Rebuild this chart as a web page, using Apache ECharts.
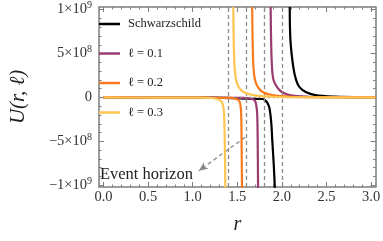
<!DOCTYPE html>
<html>
<head>
<meta charset="utf-8">
<script src="https://cdn.jsdelivr.net/npm/echarts@6/dist/echarts.min.js"></script>
<style>html,body{margin:0;padding:0;background:#fff;}#c{width:383px;height:241px;}</style>
</head>
<body>
<div id="c"></div>
<script>
// ---- data ----
var seriesNames = ['Schwarzschild', 'ℓ = 0.1', 'ℓ = 0.2', 'ℓ = 0.3'];
var seriesColors = ['#000000', '#9b3a6f', '#f77a1e', '#fec550'];

// inner branches (r < horizon), [r, U]
var schwInner = [[0,0],[0.6,-1e6],[1.2,-3e6],[1.46,-8e6],[1.6,-1.5e7],[1.785,-1.8e7],[1.822,-4e7],[1.857,-1.06e8],[1.881,-2.9e8],[1.892,-4.85e8],[1.908,-7.5e8],[1.921,-1.03e9]];
var l01Inner = [[0,0],[0.6,-1e6],[1.2,-3e6],[1.57,-5e6],[1.677,-2e7],[1.704,-5e7],[1.720,-1.4e8],[1.726,-2.9e8],[1.729,-5e8],[1.733,-1.03e9]];
var l02Inner = [[0,0],[0.6,-1e6],[1.1,-3e6],[1.409,-5e6],[1.495,-2e7],[1.527,-5e7],[1.541,-1.4e8],[1.546,-2.9e8],[1.548,-5e8],[1.553,-1.03e9]];
var l03Inner = [[0,0],[0.6,-1e6],[1.0,-3e6],[1.195,-5e6],[1.28,-2e7],[1.327,-5e7],[1.348,-1.4e8],[1.355,-2.9e8],[1.360,-5e8],[1.366,-1.03e9]];

// outer branches (r > horizon), [r, U]
var schwOuter = [[2.088,1.03e9],[2.096,6.5e8],[2.128,3.46e8],[2.160,1.98e8],[2.198,1.18e8],[2.267,6.2e7],[2.374,2.7e7],[2.6,9e6],[2.9,3e6],[3.05,2e6]];
var l01Outer = [[1.874,1.03e9],[1.879,6.5e8],[1.889,3.46e8],[1.906,1.98e8],[1.946,1.18e8],[1.999,6.2e7],[2.085,2.7e7],[2.3,8e6],[2.6,2e6],[3.05,5e5]];
var l02Outer = [[1.667,1.03e9],[1.672,6.5e8],[1.681,3.46e8],[1.699,1.98e8],[1.731,1.18e8],[1.784,6.2e7],[1.891,2.7e7],[2.1,8e6],[2.4,2e6],[3.05,3e5]];
var l03Outer = [[1.455,1.03e9],[1.460,6.5e8],[1.470,3.46e8],[1.487,1.98e8],[1.516,1.18e8],[1.570,6.2e7],[1.678,2.7e7],[1.9,8e6],[2.2,2e6],[3.05,2e5]];

var horizons = [1.4, 1.6, 1.8, 2.0];
var xTickValues = [0, 0.5, 1.0, 1.5, 2.0, 2.5, 3.0];
var xTickLabels = ['0.0', '0.5', '1.0', '1.5', '2.0', '2.5', '3.0'];
var xMinorValues = [0.1,0.2,0.3,0.4,0.6,0.7,0.8,0.9,1.1,1.2,1.3,1.4,1.6,1.7,1.8,1.9,2.1,2.2,2.3,2.4,2.6,2.7,2.8,2.9];
var yTickValues = [-1e9, -5e8, 0, 5e8, 1e9];
var yTickLabels = ['−1×10{s|9}', '−5×10{s|8}', '0', '5×10{s|8}', '1×10{s|9}'];
var yMinorValues = [-9e8,-8e8,-7e8,-6e8,-4e8,-3e8,-2e8,-1e8,1e8,2e8,3e8,4e8,6e8,7e8,8e8,9e8];
var annotationText = 'Event horizon';
var annotationAt = [-0.04, -8.8e8];
var arrowFrom = [1.588, -4.54e8];
var arrowTo = [1.069, -8.35e8];

// ---- chart ----
var FONT = 'Liberation Serif';
var frameColor = '#7d7d7d';
var X_MIN = -0.05, X_MAX = 3.05, Y_MIN = -1.02e9, Y_MAX = 1.03e9;

function xAxisDef(pos, major, showLine, showLabel) {
  return {
    type: 'value', min: X_MIN, max: X_MAX, position: pos,
    axisLine: {show: showLine, onZero: false, lineStyle: {color: frameColor, width: 1.5}},
    axisTick: {show: true, inside: true, length: major ? 5 : 2.5,
      customValues: major ? xTickValues : xMinorValues,
      lineStyle: {color: frameColor, width: 1}},
    axisLabel: showLabel ? {show: true, customValues: xTickValues, margin: 3,
      fontFamily: FONT, fontSize: 14.5, color: '#333',
      formatter: function (v) { var i = xTickValues.indexOf(Math.round(v*10)/10); return i >= 0 ? xTickLabels[i] : ''; }
    } : {show: false},
    splitLine: {show: false}
  };
}
function yAxisDef(pos, major, showLine, showLabel) {
  return {
    type: 'value', min: Y_MIN, max: Y_MAX, position: pos,
    axisLine: {show: showLine, onZero: false, lineStyle: {color: frameColor, width: 1.5}},
    axisTick: {show: true, inside: true, length: major ? 5 : 2.5,
      customValues: major ? yTickValues : yMinorValues,
      lineStyle: {color: frameColor, width: 1}},
    axisLabel: showLabel ? {show: true, customValues: yTickValues, margin: 7,
      fontFamily: FONT, fontSize: 14.5, color: '#333',
      formatter: function (v) { var i = yTickValues.indexOf(Math.round(v/1e8)*1e8); return i >= 0 ? yTickLabels[i] : ''; },
      rich: {
        s: {fontFamily: FONT, fontSize: 10, color: '#333', padding: [0, 0, 8, 0]}
      }
    } : {show: false},
    splitLine: {show: false}
  };
}

var xAxes = [xAxisDef('bottom', true, true, true), xAxisDef('bottom', false, false, false),
             xAxisDef('top', true, true, false), xAxisDef('top', false, false, false)];
xAxes[0].name = 'r';
xAxes[0].nameLocation = 'middle';
xAxes[0].nameGap = 28;
xAxes[0].nameTextStyle = {fontFamily: FONT, fontStyle: 'italic', fontSize: 20, color: '#222'};

var yAxes = [yAxisDef('left', true, true, true), yAxisDef('left', false, false, false),
             yAxisDef('right', true, true, false), yAxisDef('right', false, false, false)];
yAxes[0].name = 'U(r, ℓ)';
yAxes[0].nameLocation = 'middle';
yAxes[0].nameGap = 70;
yAxes[0].nameRotate = 90;
yAxes[0].nameTextStyle = {fontFamily: FONT, fontStyle: 'italic', fontSize: 21, color: '#222'};

var inner = [schwInner, l01Inner, l02Inner, l03Inner];
var outer = [schwOuter, l01Outer, l02Outer, l03Outer];
var series = [];

// guide lines (horizons, zero line, annotation)
series.push({
  type: 'line', data: [], silent: true, z: 1,
  markLine: {
    silent: true, symbol: ['none', 'none'], animation: false,
    label: {show: false},
    lineStyle: {color: '#8c8c8c', width: 1.3, type: [4, 3]},
    data: horizons.map(function (h) { return {xAxis: h}; })
  }
});

for (var i = 0; i < 4; i++) {
  var common = {
    type: 'line', name: seriesNames[i], showSymbol: false, symbol: 'none',
    color: seriesColors[i], smooth: 0.35, animation: false, z: 3 + i,
    lineStyle: {width: 2.2, color: seriesColors[i]}
  };
  series.push(Object.assign({}, common, {data: inner[i]}));
  series.push(Object.assign({}, common, {data: outer[i]}));
}

series.push({
  type: 'line', data: [], silent: true, z: 10,
  markLine: {
    silent: true, symbol: ['none', 'none'], animation: false,
    label: {show: false},
    lineStyle: {color: '#8a8a8a', width: 1.3, type: [1.5, 3.2]},
    data: [{yAxis: 0}]
  },
  markPoint: {
    silent: true, animation: false, symbol: 'circle', symbolSize: 0,
    label: {show: true, position: 'right', distance: 0, formatter: annotationText,
      fontFamily: FONT, fontSize: 16.5, color: '#222'},
    data: [{coord: annotationAt}]
  }
});
series.push({
  type: 'line', data: [], silent: true, z: 10,
  markLine: {
    silent: true, animation: false, symbol: ['none', 'arrow'], symbolSize: [6, 9],
    label: {show: false},
    lineStyle: {color: '#8a8a8a', width: 1.3, type: [4, 3]},
    itemStyle: {color: '#8a8a8a'},
    data: [[{coord: arrowFrom}, {coord: arrowTo}]]
  }
});

var chart = echarts.init(document.getElementById('c'), null, {renderer: 'canvas'});
chart.setOption({
  animation: false,
  backgroundColor: '#ffffff',
  grid: {left: 89, right: 5, top: 7, bottom: 54, containLabel: false},
  xAxis: xAxes,
  yAxis: yAxes,
  legend: {
    data: seriesNames, orient: 'vertical', left: 94, top: 12,
    icon: 'rect', itemWidth: 21, itemHeight: 2.5, itemGap: 15.5,
    formatter: function (n) { return '{t|' + n + '}'; },
    textStyle: {fontFamily: FONT, fontSize: 12.5, color: '#222', lineHeight: 14,
      rich: {t: {fontFamily: FONT, fontSize: 12.5, color: '#222', lineHeight: 14, padding: [0, 0, 0, 3]}}},
    selectedMode: false
  },
  series: series
});
</script>
</body>
</html>
